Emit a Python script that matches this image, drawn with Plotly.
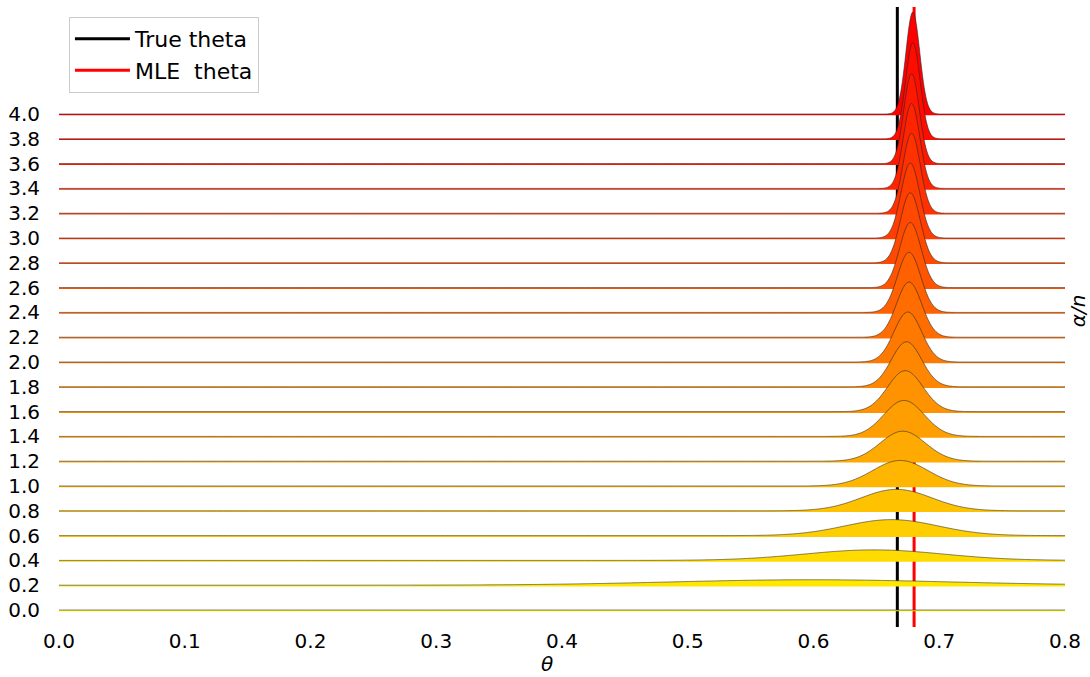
import numpy as np
import plotly.graph_objects as go

# ---- data ----
alpha_n = [0.0, 0.2, 0.4, 0.6, 0.8, 1.0, 1.2, 1.4, 1.6, 1.8, 2.0,
           2.2, 2.4, 2.6, 2.8, 3.0, 3.2, 3.4, 3.6, 3.8, 4.0]
tick_labels = ["0.0", "0.2", "0.4", "0.6", "0.8", "1.0", "1.2", "1.4", "1.6", "1.8", "2.0",
               "2.2", "2.4", "2.6", "2.8", "3.0", "3.2", "3.4", "3.6", "3.8", "4.0"]
# posterior mode of each ridge
modes = [0.600, 0.598, 0.648, 0.662, 0.666, 0.669, 0.671, 0.672, 0.673, 0.674, 0.675,
         0.676, 0.676, 0.677, 0.677, 0.677, 0.678, 0.678, 0.678, 0.679, 0.679]
# spread of each ridge
spreads = [1.0, 0.110, 0.055, 0.037, 0.028, 0.022, 0.018, 0.016, 0.014, 0.012, 0.011,
           0.010, 0.0092, 0.0085, 0.0079, 0.0074, 0.0069, 0.0065, 0.0061, 0.0058, 0.0055]
# peak height of each ridge (in row units)
peaks = [0.0, 0.044, 0.085, 0.129, 0.173, 0.206, 0.242, 0.290, 0.330, 0.363, 0.403,
         0.445, 0.485, 0.525, 0.565, 0.605, 0.645, 0.685, 0.726, 0.774, 0.823]
x_ticks = [0.0, 0.1, 0.2, 0.3, 0.4, 0.5, 0.6, 0.7, 0.8]
x_tick_labels = ["0.0", "0.1", "0.2", "0.3", "0.4", "0.5", "0.6", "0.7", "0.8"]
true_theta = 2 / 3
mle_theta = 0.68
x_range = [0.0, 0.8]

y_lo, y_hi = -0.137, 4.863

fig = go.Figure()

# vertical reference lines (behind the ridges)
fig.add_trace(go.Scatter(x=[true_theta, true_theta], y=[y_lo, y_hi], mode="lines",
                         line=dict(color="black", width=3), name="True theta",
                         legendgroup="a", hoverinfo="skip"))
fig.add_trace(go.Scatter(x=[mle_theta, mle_theta], y=[y_lo, y_hi], mode="lines",
                         line=dict(color="red", width=3), name="MLE  theta",
                         legendgroup="b", hoverinfo="skip"))

xs = np.linspace(x_range[0], x_range[1], 1201)
n = len(alpha_n)
eps = 1.3 / 124.0
# draw from top row to bottom row so lower rows cover upper ones
for i in range(n - 1, -1, -1):
    a = alpha_n[i]
    idx_top = n - 1 - i
    g = int(round(255 * idx_top / n))
    col = f"rgb(255,{g},0)"
    dens = peaks[i] * np.exp(-0.5 * ((xs - modes[i]) / spreads[i]) ** 2)
    ytop = a + dens
    px = np.concatenate([xs, xs[::-1]])
    py = np.concatenate([ytop, np.full_like(xs, a - eps)])
    fig.add_trace(go.Scatter(x=px, y=py, mode="lines", fill="toself", fillcolor=col,
                             line=dict(width=0, simplify=False),
                             showlegend=False, hoverinfo="skip"))
    fig.add_trace(go.Scatter(x=xs, y=ytop, mode="lines",
                             line=dict(color="rgba(40,40,40,0.75)", width=0.8,
                                       simplify=False),
                             showlegend=False, hoverinfo="skip"))

font = "DejaVu Sans"
fig.update_layout(
    width=1090, height=677,
    margin=dict(l=59, r=25, t=7, b=50, pad=0),
    paper_bgcolor="white", plot_bgcolor="white",
    font=dict(family=font, size=20, color="black"),
    showlegend=True,
    legend=dict(x=0.0099, y=0.984, xanchor="left", yanchor="top",
                bgcolor="white", bordercolor="#cccccc", borderwidth=1,
                font=dict(size=22), tracegroupgap=0, itemwidth=55),
    xaxis=dict(range=x_range, tickvals=x_ticks, ticktext=x_tick_labels,
               showgrid=False, zeroline=False, showline=False,
               ticks="", tickfont=dict(size=20)),
    yaxis=dict(range=[y_lo, y_hi], tickvals=alpha_n, ticktext=tick_labels,
               showgrid=False, zeroline=False, showline=False,
               ticks="outside", ticklen=14, tickcolor="rgba(0,0,0,0)",
               tickfont=dict(size=20)),
    annotations=[
        dict(text="<i>θ</i>", x=0.4847, y=-0.0595, xref="paper", yref="paper",
             xanchor="center", yanchor="middle", showarrow=False,
             font=dict(family=font, size=20)),
        dict(text="<i>α/n</i>", x=1.0129, y=0.511, xref="paper", yref="paper",
             xanchor="center", yanchor="middle", showarrow=False, textangle=-90,
             font=dict(family=font, size=20)),
    ],
)

fig.write_html(
    "out.html",
    config={"displayModeBar": False},
    post_script="document.body.style.margin='0';document.body.style.overflow='hidden';",
)
